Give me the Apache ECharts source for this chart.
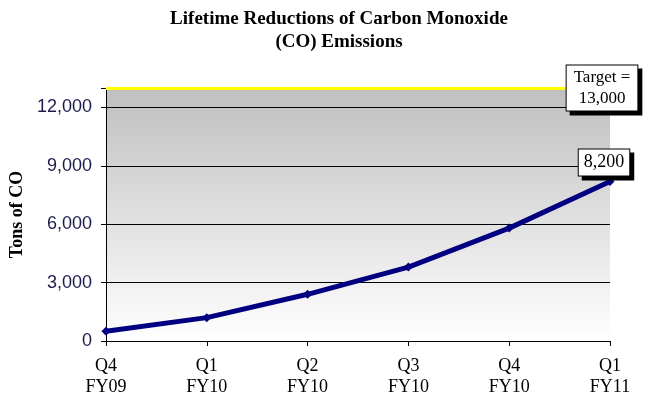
<!DOCTYPE html>
<html><head><meta charset="utf-8">
<script src="https://cdn.jsdelivr.net/npm/echarts@6/dist/echarts.min.js"></script>
<style>html,body{margin:0;padding:0;background:#fff}#c{width:647px;height:402px}</style>
</head><body><div id="c"></div>
<script>
var categories = ['Q4\nFY09','Q1\nFY10','Q2\nFY10','Q3\nFY10','Q4\nFY10','Q1\nFY11'];
var reductions = [500, 1200, 2400, 3800, 5800, 8200];
var targetValue = 13000;
var yTicks = [0, 3000, 6000, 9000, 12000];

var chart = echarts.init(document.getElementById('c'));
var serif = 'Liberation Serif';
chart.setOption({
  animation: false,
  title: {
    text: 'Lifetime Reductions of Carbon Monoxide\n(CO) Emissions',
    left: 334, top: 3, textAlign: 'center',
    textStyle: {fontFamily: serif, fontWeight: 'bold', fontSize: 19, lineHeight: 23, color: '#000'}
  },
  grid: {
    left: 104, right: 37, top: 88, bottom: 61,
    show: true, borderWidth: 0,
    backgroundColor: {type: 'linear', x: 0, y: 0, x2: 0, y2: 1,
      colorStops: [{offset: 0, color: '#bfbfbf'}, {offset: 1, color: '#ffffff'}]}
  },
  xAxis: {
    type: 'category', data: categories, boundaryGap: false,
    axisLine: {lineStyle: {color: '#000', width: 1}},
    axisTick: {show: true, alignWithLabel: true, length: 5, lineStyle: {color: '#000'}},
    axisLabel: {fontFamily: serif, fontSize: 18, color: '#000', lineHeight: 21, margin: 15}
  },
  yAxis: {
    type: 'value', min: 0, max: targetValue, interval: 3000,
    name: 'Tons of CO', nameLocation: 'middle', nameGap: 74, nameRotate: 90,
    nameTextStyle: {fontFamily: serif, fontWeight: 'bold', fontSize: 18, color: '#000'},
    axisLine: {show: true, lineStyle: {color: '#000', width: 1}},
    axisTick: {show: true, length: 5, lineStyle: {color: '#000'}},
    splitLine: {show: true, lineStyle: {color: '#000', width: 1}},
    axisLabel: {
      fontFamily: 'Liberation Sans', fontSize: 18, color: '#1c1c4c', margin: 14,
      customValues: yTicks,
      formatter: function (v) { return yTicks.indexOf(v) >= 0 ? v.toLocaleString('en-US') : ''; }
    }
  },
  series: [{
    type: 'line', data: reductions,
    lineStyle: {color: '#000080', width: 5},
    itemStyle: {color: '#000080'},
    symbol: 'diamond', symbolSize: 9, showAllSymbol: true,
    label: {show: false},
    markLine: {
      silent: true, symbol: 'none',
      lineStyle: {color: '#ffff00', width: 3, type: 'solid'},
      label: {show: false},
      data: [{yAxis: targetValue}]
    },
    markPoint: {
      silent: true,
      symbol: 'rect', symbolSize: 1,
      itemStyle: {color: 'rgba(0,0,0,0)'},
      data: [
        {coord: [5, targetValue], value: targetValue,
         label: {show: true, position: 'inside', offset: [-8, 0],
           formatter: 'Target =\n13,000', fontFamily: serif, fontSize: 17, lineHeight: 21,
           color: '#000', backgroundColor: '#fff', borderColor: '#000', borderWidth: 1,
           padding: [2, 7, 1, 7], shadowColor: '#000', shadowOffsetX: 4, shadowOffsetY: 4, shadowBlur: 0}},
        {coord: [5, reductions[5]], value: reductions[5],
         label: {show: true, position: 'inside', offset: [-6, -19],
           formatter: function (p) { return p.value.toLocaleString('en-US'); },
           fontFamily: serif, fontSize: 18, lineHeight: 22, color: '#000', backgroundColor: '#fff',
           borderColor: '#000', borderWidth: 1, padding: [3, 5, 1, 5],
           shadowColor: '#000', shadowOffsetX: 4, shadowOffsetY: 4, shadowBlur: 0}}
      ]
    }
  }]
});
</script>
</body></html>
